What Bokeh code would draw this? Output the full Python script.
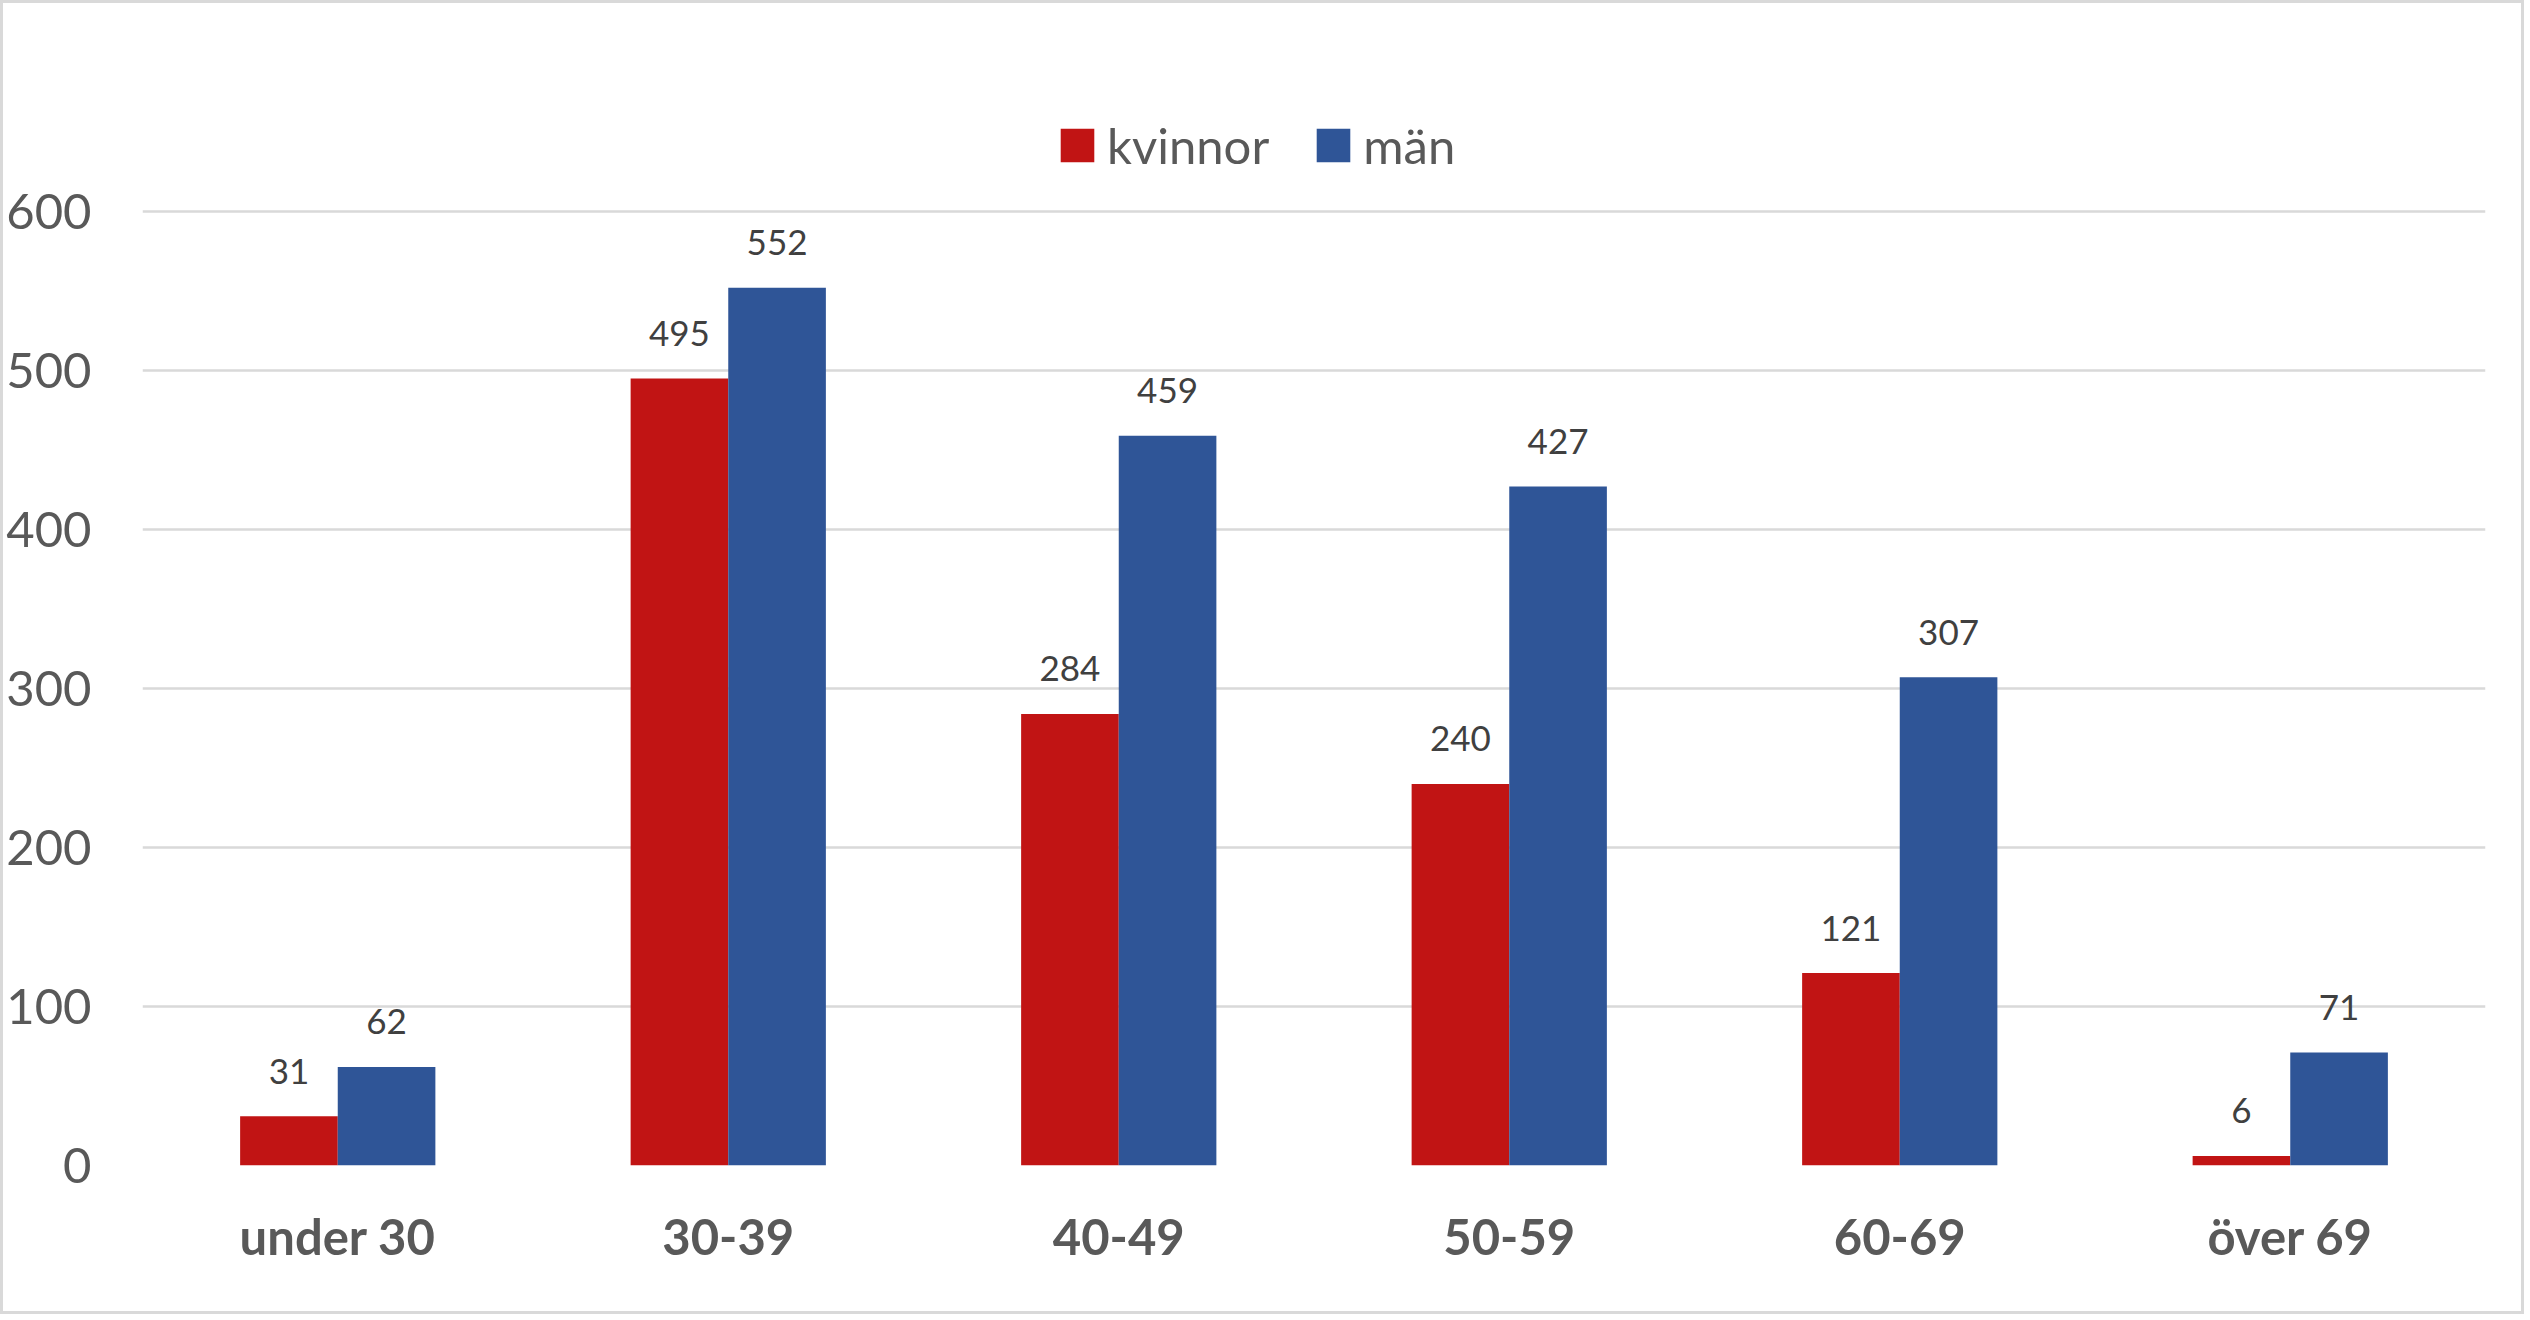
from bokeh.plotting import figure
from bokeh.models import ColumnDataSource, FactorRange, Legend, LegendItem, FixedTicker, Range1d
from bokeh.transform import dodge
from bokeh.embed import file_html
from bokeh.resources import INLINE
from bokeh.core.properties import value

# ---- data ----
categories = ["under 30", "30-39", "40-49", "50-59", "60-69", "över 69"]
kvinnor = [31, 495, 284, 240, 121, 6]
man = [62, 552, 459, 427, 307, 71]
series_names = ["kvinnor", "män"]
y_ticks = [0, 100, 200, 300, 400, 500, 600]

# ---- layout ----
W, H = 2524, 1314
B_LEFT, B_RIGHT, B_TOP, B_BOTTOM = 134, 42, 37, 152
frame_h = H - B_TOP - B_BOTTOM
px_600 = 954  # pixels from 0 to 600
y_end = y_ticks[-1] * frame_h / px_600

RED = "#C11414"
BLUE = "#2F5597"
FONT = "Lato"

src = ColumnDataSource(dict(
    cat=categories,
    kvinnor=kvinnor,
    man=man,
    kv_txt=[str(v) for v in kvinnor],
    man_txt=[str(v) for v in man],
))

p = figure(width=W, height=H, x_range=FactorRange(*categories, range_padding=0),
           y_range=Range1d(0, y_end), output_backend="svg", toolbar_location=None,
           min_border_left=B_LEFT, min_border_right=B_RIGHT,
           min_border_top=B_TOP, min_border_bottom=B_BOTTOM,
           background_fill_color="white", border_fill_color="white")
p.styles = {"border": "3px solid #d9d9d9"}
p.outline_line_color = None

r1 = p.vbar(x=dodge("cat", -0.125, range=p.x_range), top="kvinnor", width=0.25,
            source=src, fill_color=RED, line_color=None)
r2 = p.vbar(x=dodge("cat", 0.125, range=p.x_range), top="man", width=0.25,
            source=src, fill_color=BLUE, line_color=None)

for xo, col in ((-0.125, ("kvinnor", "kv_txt")), (0.125, ("man", "man_txt"))):
    p.text(x=dodge("cat", xo, range=p.x_range), y=col[0], text=col[1], source=src,
           text_align="center", text_baseline="alphabetic", y_offset=-45,
           text_font=value(FONT), text_font_size="35px", text_color="#404040")

# axes
p.yaxis.ticker = FixedTicker(ticks=y_ticks)
p.yaxis.axis_line_color = None
p.yaxis.major_tick_line_color = None
p.yaxis.minor_tick_line_color = None
p.yaxis.major_label_standoff = 45
p.yaxis.major_label_text_font = FONT
p.yaxis.major_label_text_font_size = "49px"
p.yaxis.major_label_text_color = "#595959"

p.xaxis.axis_line_color = None
p.xaxis.major_tick_line_color = None
p.xaxis.major_label_standoff = 35
p.xaxis.major_label_text_font = FONT
p.xaxis.major_label_text_font_style = "bold"
p.xaxis.major_label_text_font_size = "49px"
p.xaxis.major_label_text_color = "#595959"

p.xgrid.grid_line_color = None
p.ygrid.grid_line_color = "#d9d9d9"
p.ygrid.grid_line_width = 2.5

legend = Legend(items=[LegendItem(label=series_names[0], renderers=[r1]),
                       LegendItem(label=series_names[1], renderers=[r2])],
                orientation="horizontal", location=(914, 991),
                glyph_width=42, glyph_height=42, label_standoff=9, spacing=43,
                padding=0, margin=0, border_line_color=None, background_fill_alpha=0,
                label_text_font=FONT, label_text_font_size="49px",
                label_text_color="#595959")
p.add_layout(legend)

open("out.html", "w").write(file_html(p, INLINE))
